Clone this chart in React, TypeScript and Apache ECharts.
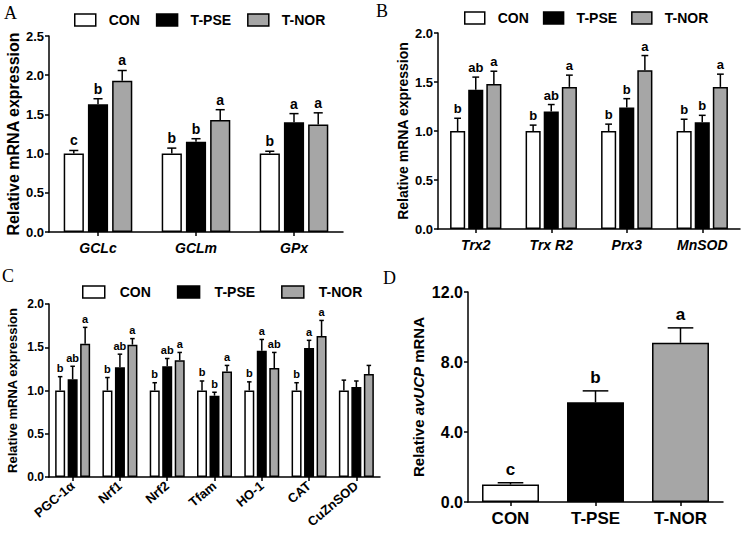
import React, { useEffect, useRef } from "react";
import * as echarts from "echarts";

// ---------- DATA ----------
const groups = ["CON", "T-PSE", "T-NOR"];
const groupColors = ["#ffffff", "#000000", "#a6a6a6"];

// Panel A
const catA = ["GCLc", "GCLm", "GPx"];
const meanA = [
  [1.0, 1.0, 1.0],
  [1.63, 1.15, 1.4],
  [1.93, 1.43, 1.37],
];
const errA = [
  [0.04, 0.07, 0.03],
  [0.07, 0.04, 0.11],
  [0.13, 0.13, 0.15],
];
const letA = [
  ["c", "b", "b"],
  ["b", "b", "a"],
  ["a", "a", "a"],
];

// Panel B
const catB = ["Trx2", "Trx R2", "Prx3", "MnSOD"];
const meanB = [
  [1.0, 1.0, 1.0, 1.0],
  [1.42, 1.2, 1.24, 1.09],
  [1.48, 1.45, 1.62, 1.45],
];
const errB = [
  [0.13, 0.06, 0.07, 0.12],
  [0.13, 0.07, 0.09, 0.07],
  [0.13, 0.12, 0.15, 0.13],
];
const letB = [
  ["b", "b", "b", "b"],
  ["ab", "ab", "b", "b"],
  ["a", "a", "a", "a"],
];

// Panel C
const catC = ["PGC-1α", "Nrf1", "Nrf2", "Tfam", "HO-1", "CAT", "CuZnSOD"];
const meanC = [
  [1.0, 1.0, 1.0, 1.0, 1.0, 1.0, 1.0],
  [1.13, 1.27, 1.28, 0.94, 1.46, 1.49, 1.04],
  [1.54, 1.53, 1.35, 1.22, 1.26, 1.63, 1.19],
];
const errC = [
  [0.16, 0.15, 0.09, 0.11, 0.1, 0.09, 0.12],
  [0.15, 0.15, 0.09, 0.04, 0.13, 0.09, 0.07],
  [0.19, 0.07, 0.09, 0.07, 0.18, 0.18, 0.1],
];
const letC = [
  ["b", "b", "b", "b", "b", "b", ""],
  ["ab", "ab", "ab", "b", "a", "a", ""],
  ["a", "a", "a", "a", "ab", "a", ""],
];

// Panel D
const catD = ["CON", "T-PSE", "T-NOR"];
const meanD = [1.0, 5.7, 9.1];
const errD = [0.1, 0.65, 0.85];
const letD = ["c", "b", "a"];

const FONT = "'Liberation Sans', Arial, sans-serif";

type Panel = {
  cats: string[];
  mean: number[][];
  err: number[][];
  lets: string[][];
  catGap: number;
  barGap: number;
  letterSize: number;
  titleSize: number;
  tickSize: number;
  nameGap: number;
};

export default function App() {
  const ref = useRef<HTMLDivElement>(null);
  useEffect(() => {
    document.body.style.margin = "0";
    const chart = echarts.init(ref.current!, undefined, { renderer: "svg" });

    const grids = [
      { left: 49, top: 36, width: 294, height: 196 },
      { left: 438, top: 33, width: 302, height: 196 },
      { left: 49, top: 304, width: 331, height: 173 },
      { left: 468, top: 292, width: 255, height: 210 },
    ];

    const panels: Panel[] = [
      { cats: catA, mean: meanA, err: errA, lets: letA, catGap: 0.3, barGap: 0.2, letterSize: 14, titleSize: 16, tickSize: 13, nameGap: 28 },
      { cats: catB, mean: meanB, err: errB, lets: letB, catGap: 0.32, barGap: 0.2, letterSize: 13, titleSize: 14, tickSize: 13, nameGap: 28 },
      { cats: catC, mean: meanC, err: errC, lets: letC, catGap: 0.26, barGap: 0.25, letterSize: 11, titleSize: 13, tickSize: 12, nameGap: 30 },
    ];

    const xAxes: any[] = [];
    const yAxes: any[] = [];
    const series: any[] = [];

    const axisLine = { show: true, lineStyle: { color: "#000", width: 1.5 } };
    const axisTick = { show: true, length: 4, lineStyle: { color: "#000", width: 1.5 } };

    panels.forEach((p, pi) => {
      xAxes.push({
        type: "category",
        gridIndex: pi,
        data: p.cats,
        axisLine,
        axisTick: { ...axisTick, alignWithLabel: true },
        axisLabel:
          pi === 2
            ? { rotate: 40, color: "#000", fontFamily: FONT, fontWeight: "bold", fontSize: 13, margin: 7 }
            : { color: "#000", fontFamily: FONT, fontWeight: "bold", fontStyle: "italic", fontSize: 14, margin: 9 },
      });
      yAxes.push({
        type: "value",
        gridIndex: pi,
        min: 0,
        max: pi === 0 ? 2.5 : 2.0,
        interval: 0.5,
        name: "Relative mRNA expression",
        nameLocation: "middle",
        nameGap: p.nameGap,
        nameTextStyle: { color: "#000", fontFamily: FONT, fontWeight: "bold", fontSize: p.titleSize },
        axisLine,
        axisTick,
        splitLine: { show: false },
        axisLabel: {
          color: "#000",
          fontFamily: FONT,
          fontWeight: "bold",
          fontSize: p.tickSize,
          margin: 5,
          formatter: (v: number) => v.toFixed(1),
        },
      });
      groups.forEach((g, gi) => {
        series.push({
          type: "bar",
          name: g,
          xAxisIndex: pi,
          yAxisIndex: pi,
          data: p.mean[gi],
          barGap: (p.barGap * 100) + "%",
          barCategoryGap: (p.catGap * 100) + "%",
          itemStyle: { color: groupColors[gi], borderColor: "#000", borderWidth: 1.5 },
        });
      });
      groups.forEach((g, gi) => {
        series.push({
          type: "custom",
          xAxisIndex: pi,
          yAxisIndex: pi,
          z: 5,
          data: p.mean[gi].map((m, ci) => [ci, m, m + p.err[gi][ci]]),
          renderItem: (params: any, api: any) => {
            const ci = api.value(0);
            const base = api.coord([ci, api.value(1)]);
            const top = api.coord([ci, api.value(2)]);
            const band = api.size([1, 0])[0];
            const n = 3;
            const bw = (band * (1 - p.catGap)) / (n + (n - 1) * p.barGap);
            const x = base[0] + (gi - 1) * bw * (1 + p.barGap);
            const cap = bw * 0.45;
            const letter = p.lets[gi][params.dataIndex];
            const children: any[] = [
              { type: "line", shape: { x1: x, y1: base[1], x2: x, y2: top[1] }, style: { stroke: "#000", lineWidth: 1.5 } },
              { type: "line", shape: { x1: x - cap / 2, y1: top[1], x2: x + cap / 2, y2: top[1] }, style: { stroke: "#000", lineWidth: 1.5 } },
            ];
            if (letter) {
              children.push({
                type: "text",
                x,
                y: top[1] - 3,
                style: {
                  text: letter,
                  fill: "#000",
                  font: `bold ${p.letterSize}px ${FONT}`,
                  textAlign: "center",
                  textVerticalAlign: "bottom",
                },
              });
            }
            return { type: "group", children };
          },
        });
      });
    });

    // Panel D
    xAxes.push({
      type: "category",
      gridIndex: 3,
      data: catD,
      axisLine,
      axisTick: { ...axisTick, alignWithLabel: true },
      axisLabel: { color: "#000", fontFamily: FONT, fontWeight: "bold", fontSize: 17, margin: 8 },
    });
    yAxes.push({
      type: "value",
      gridIndex: 3,
      min: 0,
      max: 12,
      interval: 4,
      name: "{n|Relative }{i|avUCP}{n| mRNA}",
      nameLocation: "middle",
      nameGap: 42,
      nameTextStyle: {
        rich: {
          n: { color: "#000", fontFamily: FONT, fontWeight: "bold", fontSize: 15 },
          i: { color: "#000", fontFamily: FONT, fontWeight: "bold", fontStyle: "italic", fontSize: 15 },
        },
      },
      axisLine,
      axisTick,
      splitLine: { show: false },
      axisLabel: {
        color: "#000",
        fontFamily: FONT,
        fontWeight: "bold",
        fontSize: 16,
        margin: 5,
        formatter: (v: number) => v.toFixed(1),
      },
    });
    series.push({
      type: "bar",
      xAxisIndex: 3,
      yAxisIndex: 3,
      barCategoryGap: "33%",
      data: meanD.map((v, i) => ({
        value: v,
        itemStyle: { color: groupColors[i], borderColor: "#000", borderWidth: 1.5 },
      })),
    });
    series.push({
      type: "custom",
      xAxisIndex: 3,
      yAxisIndex: 3,
      z: 5,
      data: meanD.map((m, i) => [i, m, m + errD[i]]),
      renderItem: (params: any, api: any) => {
        const ci = api.value(0);
        const base = api.coord([ci, api.value(1)]);
        const top = api.coord([ci, api.value(2)]);
        const band = api.size([1, 0])[0];
        const bw = band * 0.67;
        const x = base[0];
        const cap = bw * 0.45;
        return {
          type: "group",
          children: [
            { type: "line", shape: { x1: x, y1: base[1], x2: x, y2: top[1] }, style: { stroke: "#000", lineWidth: 1.5 } },
            { type: "line", shape: { x1: x - cap / 2, y1: top[1], x2: x + cap / 2, y2: top[1] }, style: { stroke: "#000", lineWidth: 1.5 } },
            {
              type: "text",
              x,
              y: top[1] - 5,
              style: {
                text: letD[params.dataIndex],
                fill: "#000",
                font: `bold 17px ${FONT}`,
                textAlign: "center",
                textVerticalAlign: "bottom",
              },
            },
          ],
        };
      },
    });

    const legendBase = (left: number, top: number, gap: number, pad: number, w: number) => ({
      data: groups,
      left,
      top,
      icon: "rect",
      itemWidth: w,
      itemHeight: 12,
      itemGap: gap,
      selectedMode: false,
      itemStyle: { borderColor: "#000", borderWidth: 1.5 },
      textStyle: { color: "#000", fontFamily: FONT, fontWeight: "bold", fontSize: 14, padding: [0, 0, 0, pad] },
    });

    const panelLabel = (text: string, left: number, top: number) => ({
      type: "text",
      left,
      top,
      style: { text, fill: "#000", font: `18px 'Liberation Serif', 'DejaVu Serif', serif` },
    });

    chart.setOption({
      animation: false,
      backgroundColor: "#fff",
      grid: grids,
      xAxis: xAxes,
      yAxis: yAxes,
      series,
      legend: [
        legendBase(69, 8, 16, 8, 21),
        legendBase(459, 6, 14, 8, 20),
        legendBase(77, 280, 26, 10, 22),
      ],
      graphic: [
        panelLabel("A", 4, 4),
        panelLabel("B", 376, 2),
        panelLabel("C", 2, 267),
        panelLabel("D", 383, 269),
      ],
    });
    return () => chart.dispose();
  }, []);
  return <div ref={ref} style={{ width: 743, height: 536 }} />;
}
